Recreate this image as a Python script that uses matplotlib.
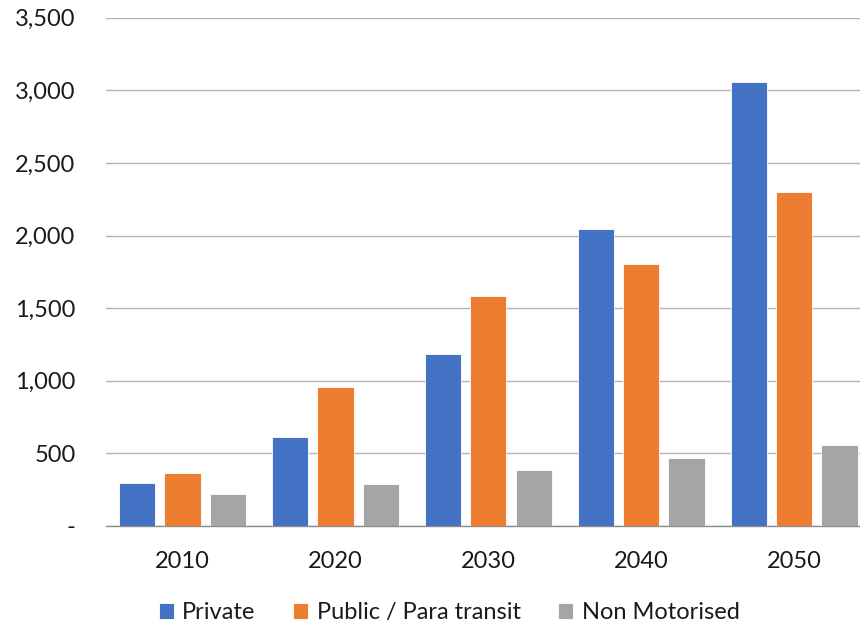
import matplotlib.pyplot as plt
import numpy as np
from matplotlib.ticker import FuncFormatter

# Data
years = ['2010', '2020', '2030', '2040', '2050']
private = [296, 611, 1182, 2048, 3058]
public_para = [367, 957, 1586, 1802, 2302]
non_motorised = [218, 291, 383, 470, 556]
series_names = ['Private', 'Public / Para transit', 'Non Motorised']
colors = ['#4472C4', '#ED7D31', '#A5A5A5']

plt.rcParams['font.family'] = ['Lato', 'DejaVu Sans']

fig = plt.figure(figsize=(8.6, 6.26), dpi=100)
ax = fig.add_axes([106 / 860, 1 - 526 / 626, (860 - 106) / 860, (526 - 17.8) / 626])

x = np.arange(len(years))
step = 0.296
width = 0.237
for i, (vals, name, c) in enumerate(zip([private, public_para, non_motorised], series_names, colors)):
    ax.bar(x + (i - 1) * step, vals, width, color=c, label=name, zorder=3,
           edgecolor='white', linewidth=0.6)

ax.set_ylim(0, 3500)
ax.set_yticks(np.arange(0, 3501, 500))
ax.yaxis.set_major_formatter(FuncFormatter(lambda v, p: '-' if v == 0 else f'{int(v):,}'))
ax.set_xlim(-0.5, 4.43)
ax.set_xticks(x)
ax.set_xticklabels(years)

ax.grid(True, axis='y', color='#b3b3b3', linewidth=1.0, zorder=0)
for s in ['top', 'right', 'left']:
    ax.spines[s].set_visible(False)
ax.spines['bottom'].set_color('#8c8c8c')
ax.spines['bottom'].set_linewidth(1.0)
ax.tick_params(axis='both', length=0, labelsize=17, colors='#1a1a1a')
ax.tick_params(axis='y', pad=22)
ax.tick_params(axis='x', pad=18)

ax.legend(loc='center', bbox_to_anchor=(0.455, -0.171), ncol=3, frameon=False,
          fontsize=17, handlelength=0.64, handleheight=0.64, handletextpad=0.35,
          columnspacing=1.6, labelcolor='#1a1a1a')

plt.savefig('out.png', dpi=100)
